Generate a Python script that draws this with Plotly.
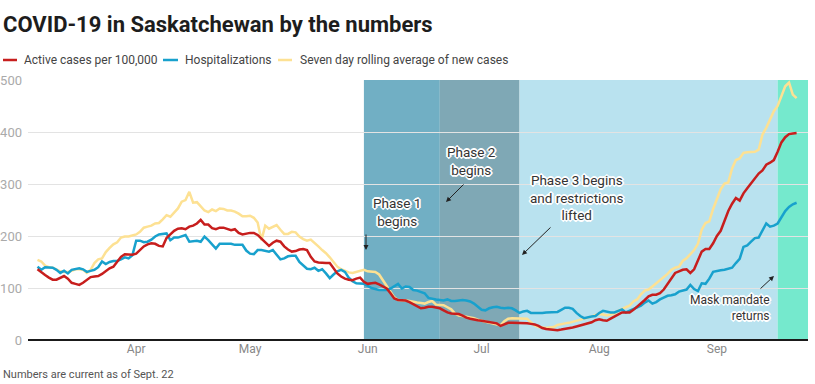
import pandas as pd
import plotly.graph_objects as go

# ---------------- data ----------------
start_date = "2021-03-06"
n_days = 201
dates = pd.date_range(start_date, periods=n_days, freq="D")

active_cases = [
    136,130,125,120,116,116,119,123,118,110,
    108,106,110,116,121,122,123,127,133,138,
    141,150,160,165,165,164,166,174,180,184,
    186,185,181,180,196,203,210,214,215,213,
    218,220,224,231,222,222,215,213,216,216,
    213,211,213,206,203,205,206,206,202,195,
    188,181,187,191,189,180,174,170,171,174,
    175,173,160,151,149,148,148,148,138,128,
    122,118,116,115,118,120,112,108,109,110,
    107,103,99,90,80,77,77,76,73,69,
    65,61,62,64,64,63,61,57,53,51,
    50,50,47,43,41,39,38,37,36,35,
    33,32,27,30,33,33,33,33,32,32,
    31,30,27,23,21,20,19,19,20,21,
    22,24,26,28,30,31,34,38,40,38,
    37,41,45,49,53,53,53,58,64,71,
    77,84,87,87,90,97,108,120,129,132,
    135,136,129,136,155,170,175,175,186,200,
    210,230,248,262,273,268,282,292,302,312,
    320,326,337,341,346,362,380,390,396,397,
    398,
]

hospitalizations = [
    141,135,140,140,139,135,129,133,128,135,
    137,138,136,131,133,135,140,151,146,150,
    152,152,155,159,157,163,191,191,188,189,
    193,199,203,204,205,192,197,197,200,202,
    189,190,191,189,199,192,183,176,185,185,
    185,185,183,183,183,172,166,165,173,173,
    171,170,173,163,155,157,161,162,162,150,
    143,137,136,139,133,136,128,119,126,132,
    135,131,120,113,109,109,108,104,100,98,
    96,96,96,99,104,108,99,103,102,96,
    95,93,90,81,79,78,77,76,78,75,
    75,76,77,76,74,70,64,58,57,61,
    63,64,62,61,62,61,57,52,55,56,
    52,52,51,52,53,53,54,54,58,62,
    62,60,52,46,42,44,45,46,52,56,
    54,53,53,56,59,53,56,59,63,66,
    72,76,70,73,78,82,85,86,88,93,
    95,97,106,98,94,109,108,118,131,133,
    134,135,137,139,148,156,179,182,189,196,
    197,210,224,218,220,224,236,248,256,261,
    264,
]

rolling_new_cases = [
    154,151,143,140,139,136,132,131,131,133,
    136,136,135,129,135,148,155,157,169,177,
    184,188,197,199,199,201,203,208,216,218,
    220,224,225,232,240,237,244,253,266,269,
    285,264,265,256,249,246,251,248,253,252,
    249,249,247,243,238,238,239,235,226,192,
    220,214,218,221,212,204,204,208,207,199,
    194,191,193,187,180,173,167,159,149,141,
    136,133,130,129,131,134,135,132,131,131,
    126,115,103,92,82,77,77,76,75,73,
    72,71,70,73,75,68,67,67,63,59,
    51,47,46,45,43,42,39,37,35,33,
    32,30,28,36,41,42,42,42,42,41,
    34,28,25,24,23,24,25,29,31,32,
    33,35,37,39,41,42,45,48,50,49,
    47,49,51,56,60,63,66,74,78,88,
    95,97,103,109,115,120,127,135,139,141,
    152,157,165,173,185,212,225,228,252,270,
    290,301,303,330,346,349,360,361,362,362,
    366,395,408,425,440,450,470,488,495,472,
    465,
]

series_names = ["Active cases per 100,000", "Hospitalizations",
                "Seven day rolling average of new cases"]

# period bands (start, end)
band_starts = ["2021-05-31", "2021-06-20", "2021-07-11", "2021-09-17"]
band_ends = ["2021-06-20", "2021-07-11", "2021-09-17", "2021-09-25"]

x_range = ["2021-03-03 12:00", "2021-09-25"]
y_ticks = [0, 100, 200, 300, 400, 500]

title_text = "COVID-19 in Saskatchewan by the numbers"
annotations_text = ["Phase 1<br>begins", "Phase 2<br>begins",
                    "Phase 3 begins<br>and restrictions<br>lifted",
                    "Mask mandate<br>returns"]
note_text = "Numbers are current as of Sept. 22"

# ---------------- styles ----------------
RED = "#c71e1d"
BLUE = "#18a1cd"
YELLOW = "#fde193"
BAND_COLORS = ["#71afc4", "#7fa8b5", "#b9e2ef", "#75e9cd"]
FONT = "Roboto"

W, H = 815, 384
L, R, T, B = 28, 7, 80, 44
PW, PH = W - L - R, H - T - B


def px(xp):
    return (xp - L) / PW


def py(yp):
    return (H - B - yp) / PH


fig = go.Figure()
for vals, name, col in [(rolling_new_cases, series_names[2], YELLOW),
                        (hospitalizations, series_names[1], BLUE),
                        (active_cases, series_names[0], RED)]:
    fig.add_trace(go.Scatter(x=dates, y=vals, name=name, mode="lines",
                             line=dict(color=col, width=2.5),
                             hoverinfo="skip", showlegend=False))

shapes = []
for s, e, c in zip(band_starts, band_ends, BAND_COLORS):
    shapes.append(dict(type="rect", xref="x", yref="y", x0=s, x1=e, y0=0,
                       y1=500, fillcolor=c, line=dict(width=0), layer="below"))

# legend (manual)
legend_items = [(3, 17, 22, RED, series_names[0]),
                (163, 178, 183, BLUE, series_names[1]),
                (278, 292, 298, YELLOW, series_names[2])]
annotations = []
for x0, x1, tx, col, name in legend_items:
    shapes.append(dict(type="line", xref="paper", yref="paper",
                       x0=px(x0), x1=px(x1), y0=py(60), y1=py(60),
                       line=dict(color=col, width=2.5)))
    annotations.append(dict(xref="paper", yref="paper", x=px(tx), y=py(60),
                            text=name, showarrow=False, xanchor="left",
                            yanchor="middle",
                            font=dict(family=FONT, size=12, color="#444")))

# title
annotations.append(dict(xref="paper", yref="paper", x=px(1), y=py(24),
                        text="<b>" + title_text + "</b>", showarrow=False,
                        xanchor="left", yanchor="middle",
                        font=dict(family=FONT, size=22, color="#1d1d1d")))

# bottom note
annotations.append(dict(xref="paper", yref="paper", x=px(1), y=py(383),
                        text=note_text, showarrow=False,
                        xanchor="left", yanchor="bottom",
                        font=dict(family=FONT, size=11, color="#555")))

halo = ("-1px -1px 0 #fff, 1px -1px 0 #fff, -1px 1px 0 #fff, 1px 1px 0 #fff,"
        " 0 -2px 0 #fff, 0 2px 0 #fff, -2px 0 0 #fff, 2px 0 0 #fff")
phase_font = dict(family=FONT, size=13.5, color="#333", shadow=halo)
mask_font = dict(family=FONT, size=12, color="#333", shadow=halo)

text_pos = [(397, 212, "center"), (471, 161, "center"), (577, 197, "center"),
            (772, 308, "right")]
for i, ((xp, yp, al), txt) in enumerate(zip(text_pos, annotations_text)):
    annotations.append(dict(xref="paper", yref="paper", x=px(xp), y=py(yp),
                            text=txt, showarrow=False,
                            xanchor="center" if al == "center" else "right",
                            align=al, yanchor="middle",
                            font=mask_font if i == 3 else phase_font))

arrows = [(366, 250, 0, -17), (446, 202, 19, -19), (522, 255, 30, -29),
          (774, 276, -15, 14)]
for xh, yh, ax, ay in arrows:
    annotations.append(dict(xref="paper", yref="paper", x=px(xh), y=py(yh),
                            ax=ax, ay=ay, text="", showarrow=True,
                            arrowhead=2, arrowsize=1, arrowwidth=1,
                            arrowcolor="#222"))

fig.update_layout(
    width=W, height=H, autosize=False,
    margin=dict(l=L, r=R, t=T, b=B, pad=0),
    paper_bgcolor="white", plot_bgcolor="white",
    shapes=shapes, annotations=annotations,
    font=dict(family=FONT, size=12, color="#888"),
    xaxis=dict(range=x_range, type="date", dtick="M1", tickformat="%b",
               showgrid=False, zeroline=False, showline=False, ticks="",
               automargin=False,
               tickfont=dict(size=12, color="#888"), fixedrange=True),
    yaxis=dict(range=[0, 500], tickvals=y_ticks, showgrid=True,
               gridcolor="#e3e3e3", gridwidth=1, zeroline=True,
               zerolinecolor="#1a1a1a", zerolinewidth=2,
               ticks="", ticklabelstandoff=5, automargin=False,
               tickfont=dict(size=13, color="#aaa"), fixedrange=True),
    showlegend=False,
)

fig.write_html("out.html", config={"displayModeBar": False},
               post_script="document.body.style.margin='0';"
                           "document.body.style.overflow='hidden';")
